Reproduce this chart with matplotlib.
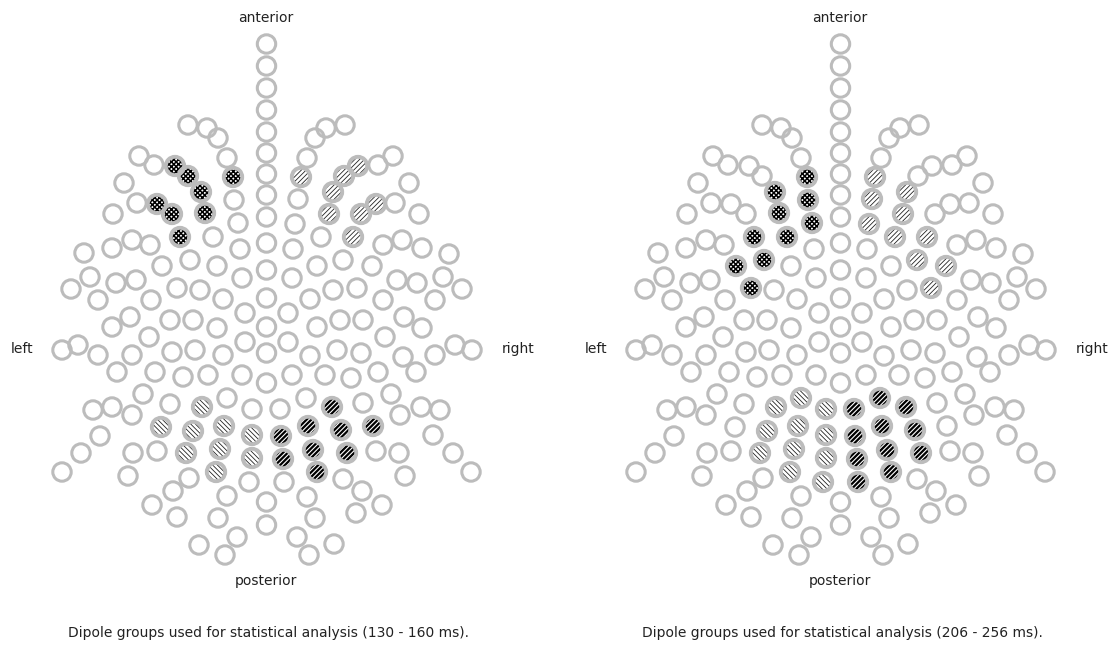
import matplotlib
matplotlib.use("Agg")
import matplotlib.pyplot as plt
from matplotlib.patches import Circle

# ---------------- sensor layout (positions in layout units, y grows downward) -------------
# left hemisphere sensors L1..L90
left_x = [188, 207, 218, 227, 233, 234, 139, 154, 175, 188, 201, 124, 137, 157, 172, 205, 113, 180, 213, 238,
          240, 84, 112, 132, 150, 162, 190, 217, 242, 71, 90, 116, 136, 98, 151, 177, 200, 223, 245, 112,
          130, 149, 170, 193, 217, 245, 62, 78, 98, 132, 172, 195, 223, 117, 155, 183, 208, 242, 143, 93,
          112, 132, 170, 202, 227, 252, 100, 161, 193, 224, 252, 81, 133, 157, 186, 220, 252, 62, 128, 216,
          189, 173, 249, 227, 152, 177, 218, 237, 199, 225]
left_y = [125, 128, 138, 158, 177, 200, 156, 165, 166, 176, 192, 183, 203, 204, 214, 213, 214, 237, 237, 223,
          249, 253, 248, 240, 245, 266, 260, 266, 278, 289, 277, 283, 280, 300, 300, 288, 290, 299, 313, 327,
          317, 337, 320, 320, 328, 342, 350, 345, 355, 355, 352, 350, 355, 372, 372, 377, 375, 375, 394, 410,
          407, 415, 404, 407, 398, 409, 436, 427, 431, 426, 435, 453, 453, 451, 453, 449, 458, 472, 476, 472,
          478, 491, 482, 496, 505, 517, 518, 537, 545, 555]
# midline sensors M1..M17
mid_x = [266.5] * 17
mid_y = [44, 66, 88, 110, 132, 153, 174, 195, 217, 243, 270, 298, 327, 353, 383, 502, 525]
# right hemisphere sensors R1..R90
right_x = [345, 326, 315, 307, 301, 298, 393, 378, 358, 344, 333, 409, 395, 376, 361, 329, 419, 353, 321, 295,
           293, 449, 422, 402, 383, 372, 343, 317, 292, 462, 443, 417, 397, 435, 383, 357, 333, 310, 288, 422,
           404, 385, 363, 340, 317, 288, 472, 455, 435, 403, 361, 337, 310, 416, 378, 351, 325, 292, 391, 440,
           421, 400, 363, 332, 306, 280, 433, 373, 341, 308, 281, 453, 399, 376, 347, 313, 283, 471, 405, 317,
           343, 362, 284, 307, 382, 356, 315, 297, 334, 309]
right_y = [125, 128, 138, 158, 177, 199, 156, 165, 166, 176, 192, 183, 203, 204, 214, 214, 214, 237, 237, 224,
           249, 254, 248, 240, 245, 266, 260, 266, 278, 289, 277, 283, 280, 300, 300, 288, 290, 299, 313, 328,
           317, 337, 320, 320, 327, 342, 350, 345, 355, 357, 353, 350, 356, 372, 372, 378, 375, 375, 394, 410,
           407, 415, 403, 407, 398, 409, 435, 426, 430, 426, 436, 453, 453, 451, 453, 450, 459, 472, 476, 472,
           479, 491, 482, 497, 505, 513, 518, 537, 544, 555]

sensor_names = ([f"L{i+1}" for i in range(len(left_x))] + [f"M{i+1}" for i in range(len(mid_x))]
                + [f"R{i+1}" for i in range(len(right_x))])
sensor_x = left_x + mid_x + right_x
sensor_y = left_y + mid_y + right_y

# ---------------- dipole groups per time window ----------------
panel_titles = ["Dipole groups used for statistical analysis (130 - 160 ms).",
                "Dipole groups used for statistical analysis (206 - 256 ms)."]
groups_130_160 = {
    "dots": ["L5", "L9", "L10", "L11", "L14", "L15", "L16", "L18"],
    "light_fwd": ["R5", "R9", "R10", "R11", "R14", "R15", "R16", "R18"],
    "light_back": ["L64", "L68", "L69", "L70", "L71", "L75", "L76", "L77", "L80"],
    "dark_fwd": ["R64", "R68", "R69", "R70", "R71", "R75", "R76", "R77", "R80"],
}
groups_206_256 = {
    "dots": ["L5", "L6", "L11", "L16", "L18", "L19", "L20", "L26", "L27", "L36"],
    "light_fwd": ["R5", "R6", "R11", "R16", "R18", "R19", "R20", "R26", "R27", "R36"],
    "light_back": ["L64", "L65", "L66", "L69", "L70", "L71", "L75", "L76", "L77", "L80", "L83"],
    "dark_fwd": ["R64", "R65", "R66", "R69", "R70", "R71", "R75", "R76", "R77", "R80", "R83"],
}
panel_groups = [groups_130_160, groups_206_256]

# ---------------- styles ----------------
RING = "#bcbcbc"
R = 9.2
RING_LW = 2.2
styles = {
    # face, hatch colour, hatch, hatch linewidth
    "dots": ("white", "black", "x" * 7, 1.1),
    "light_fwd": ("white", "#222222", "/" * 7, 0.6),
    "light_back": ("white", "#222222", "\\" * 7, 0.6),
    "dark_fwd": ("black", "white", "/" * 7, 0.8),
}

fig = plt.figure(figsize=(11.15, 6.48), dpi=100)
panel_left_px = [0, 574]
for p in range(2):
    ax = fig.add_axes([panel_left_px[p] / 1115, 0, 540 / 1115, 1])
    ax.set_xlim(0, 540)
    ax.set_ylim(648, 0)
    ax.axis("off")
    membership = {}
    for style, names in panel_groups[p].items():
        for n in names:
            membership[n] = style
    for name, x, y in zip(sensor_names, sensor_x, sensor_y):
        st = membership.get(name)
        if st is not None:
            face, hcol, hatch, hlw = styles[st]
            with plt.rc_context({"hatch.linewidth": hlw}):
                fill = Circle((x, y), R, facecolor=face, edgecolor=hcol, linewidth=0, hatch=hatch, zorder=2)
                if hasattr(fill, "set_hatch_linewidth"):
                    fill.set_hatch_linewidth(hlw)
                ax.add_patch(fill)
            ax.add_patch(Circle((x, y), R, facecolor="none", edgecolor=RING, linewidth=RING_LW + 0.6, zorder=3))
        else:
            ax.add_patch(Circle((x, y), R, facecolor="none", edgecolor=RING, linewidth=RING_LW, zorder=3))
    ax.text(266, 18, "anterior", ha="center", va="center", fontsize=10, color="#222222")
    ax.text(266, 581, "posterior", ha="center", va="center", fontsize=10, color="#222222")
    ax.text(22, 349, "left", ha="center", va="center", fontsize=10, color="#222222")
    ax.text(518, 349, "right", ha="center", va="center", fontsize=10, color="#222222")
    ax.text(268, 633, panel_titles[p], ha="center", va="center", fontsize=10, color="#222222")

fig.savefig("out.png", dpi=100)
